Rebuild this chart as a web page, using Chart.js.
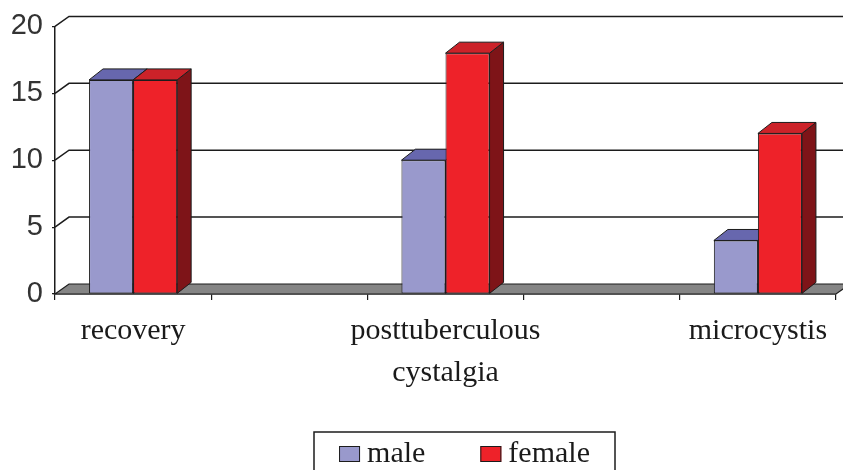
<!DOCTYPE html>
<html>
<head>
<meta charset="utf-8">
<script src="https://cdn.jsdelivr.net/npm/chart.js@4.4.0/dist/chart.umd.min.js"></script>
<style>
  html, body { margin: 0; padding: 0; background: #fff; }
  #wrap { width: 843px; height: 470px; }
</style>
</head>
<body>
<div id="wrap"><canvas id="grafico" width="843" height="470"></canvas></div>
<script>
// valores
const categorias = ["recovery", "", ["posttuberculous", "cystalgia"], "", "microcystis"];
const valoresMale = [16, null, 10, null, 4];
const valoresFemale = [16, null, 18, null, 12];
const ticksY = [0, 5, 10, 15, 20];

// profundidade do efeito 3D
const PROF_X = 14, PROF_Y = -11;
const PAREDE_X = 14, PAREDE_Y = -10;
const COR_LINHA = '#1c1c1c';

// cores das faces (frente, topo, lado)
const facesMale = { frente: '#9999CC', topo: '#6767AE', lado: '#4C4C85' };
const facesFemale = { frente: '#EE2229', topo: '#CC2229', lado: '#7E1418' };

// desenha chão, paredes e faces laterais/topo das barras
const efeito3d = {
  id: 'efeito3d',
  beforeDatasetsDraw(chart) {
    const ctx = chart.ctx;
    const { left, right, bottom } = chart.chartArea;
    const escalaY = chart.scales.y;
    ctx.save();
    ctx.lineJoin = 'miter';

    // chão
    ctx.beginPath();
    ctx.moveTo(left, bottom);
    ctx.lineTo(left + PAREDE_X, bottom + PAREDE_Y);
    ctx.lineTo(right + PAREDE_X, bottom + PAREDE_Y);
    ctx.lineTo(right, bottom);
    ctx.closePath();
    ctx.fillStyle = '#858585';
    ctx.fill();
    ctx.strokeStyle = COR_LINHA;
    ctx.lineWidth = 1.2;
    ctx.stroke();

    // linhas de grade na parede do fundo
    ctx.lineWidth = 1.5;
    escalaY.ticks.forEach(t => {
      if (t.value === 0) return;
      const py = escalaY.getPixelForValue(t.value);
      ctx.beginPath();
      ctx.moveTo(left, py);
      ctx.lineTo(left + PAREDE_X, py + PAREDE_Y);
      ctx.lineTo(chart.width, py + PAREDE_Y);
      ctx.stroke();
    });

    // lado e topo de cada barra (a frente é desenhada pelo Chart.js)
    ctx.lineWidth = 1;
    const faces = [facesMale, facesFemale];
    const metas = chart.data.datasets.map((ds, i) => chart.getDatasetMeta(i));
    categorias.forEach((_, i) => {
      metas.forEach((meta, d) => {
        if (chart.data.datasets[d].data[i] == null) return;
        const el = meta.data[i];
        const { x, y, base, width } = el.getProps(['x', 'y', 'base', 'width'], true);
        const l = x - width / 2, r = x + width / 2;

        ctx.beginPath();
        ctx.moveTo(r, y);
        ctx.lineTo(r + PROF_X, y + PROF_Y);
        ctx.lineTo(r + PROF_X, base + PROF_Y);
        ctx.lineTo(r, base);
        ctx.closePath();
        ctx.fillStyle = faces[d].lado;
        ctx.fill();
        ctx.stroke();

        ctx.beginPath();
        ctx.moveTo(l, y);
        ctx.lineTo(l + PROF_X, y + PROF_Y);
        ctx.lineTo(r + PROF_X, y + PROF_Y);
        ctx.lineTo(r, y);
        ctx.closePath();
        ctx.fillStyle = faces[d].topo;
        ctx.fill();
        ctx.stroke();
      });
    });
    ctx.restore();
  }
};

// legenda com moldura, centrada como no original
const legendaCaixa = {
  id: 'legendaCaixa',
  afterDraw(chart) {
    const ctx = chart.ctx;
    ctx.save();
    ctx.font = "30px 'Liberation Serif'";
    const itens = chart.data.datasets.map(ds => ({
      texto: ds.label,
      cor: ds.backgroundColor,
      w: ctx.measureText(ds.label).width
    }));
    const total = itens.reduce((s, it) => s + 21 + 7 + it.w, 0) + 55 * (itens.length - 1);
    let x = 464.5 - total / 2;

    ctx.strokeStyle = COR_LINHA;
    ctx.lineWidth = 1.5;
    ctx.strokeRect(314, 432, 301, 48);

    itens.forEach(it => {
      ctx.fillStyle = it.cor;
      ctx.fillRect(x, 446, 21, 16);
      ctx.lineWidth = 1;
      ctx.strokeRect(x + 0.5, 446.5, 20, 15);
      ctx.fillStyle = '#1a1a1a';
      ctx.textBaseline = 'alphabetic';
      ctx.fillText(it.texto, x + 28, 462);
      x += 21 + 7 + it.w + 55;
    });
    ctx.restore();
  }
};

new Chart(document.getElementById('grafico'), {
  type: 'bar',
  data: {
    labels: categorias,
    datasets: [
      {
        label: 'male',
        data: valoresMale,
        backgroundColor: facesMale.frente,
        borderColor: COR_LINHA,
        borderWidth: 1,
        borderSkipped: false
      },
      {
        label: 'female',
        data: valoresFemale,
        backgroundColor: facesFemale.frente,
        borderColor: COR_LINHA,
        borderWidth: 1,
        borderSkipped: false
      }
    ]
  },
  options: {
    responsive: false,
    animation: false,
    devicePixelRatio: 1,
    categoryPercentage: 0.564,
    barPercentage: 1,
    layout: { padding: { top: 22, right: 7, bottom: 0, left: 0 } },
    plugins: {
      legend: { display: false },
      tooltip: { enabled: false }
    },
    scales: {
      x: {
        grid: {
          display: true,
          drawOnChartArea: false,
          offset: true,
          tickLength: 6,
          color: COR_LINHA,
          lineWidth: 1.2
        },
        border: { display: true, color: COR_LINHA, width: 1.5 },
        ticks: {
          autoSkip: false,
          maxRotation: 0,
          minRotation: 0,
          padding: 10,
          color: '#1a1a1a',
          font: { family: "'Liberation Serif'", size: 30, lineHeight: 1.4 }
        },
        afterFit(scale) { scale.height = 176; }
      },
      y: {
        min: 0,
        max: 20,
        afterBuildTicks(scale) { scale.ticks = ticksY.map(v => ({ value: v })); },
        grid: {
          display: true,
          drawOnChartArea: false,
          tickLength: 3,
          color: COR_LINHA,
          lineWidth: 1.2
        },
        border: { display: true, color: COR_LINHA, width: 1.5 },
        ticks: {
          padding: 9,
          color: '#333',
          font: { family: "'Liberation Sans'", size: 29 }
        },
        afterFit(scale) { scale.width = 55; }
      }
    }
  },
  plugins: [efeito3d, legendaCaixa]
});
</script>
</body>
</html>
